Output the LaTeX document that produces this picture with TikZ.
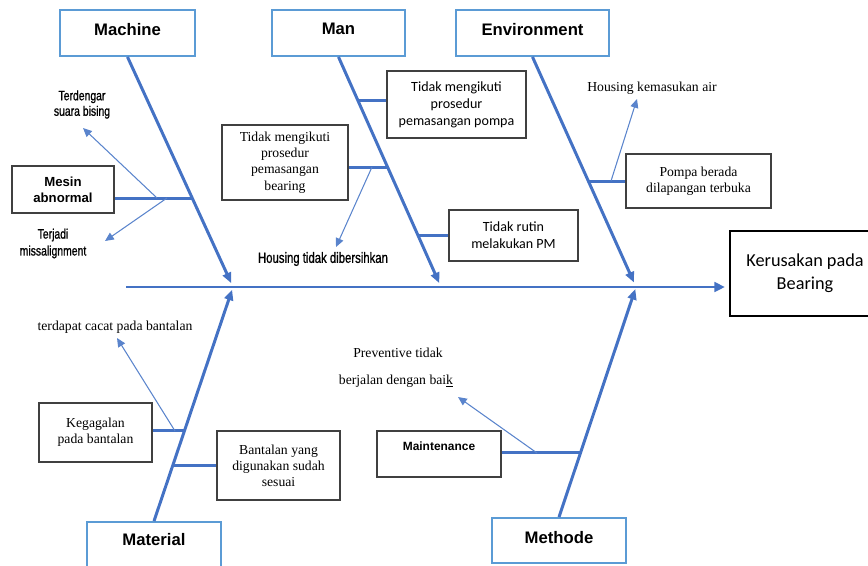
\documentclass[tikz,border=0pt]{standalone}
\usepackage{fontspec}
\setmainfont{Liberation Serif}
\setsansfont{Liberation Sans}
\newfontfamily\calib{Carlito}
\newfontfamily\narrow[FakeStretch=0.76,FakeBold=0.9]{Liberation Sans}
\usetikzlibrary{calc,arrows.meta}
\definecolor{boneblue}{HTML}{4472C4}
\definecolor{catblue}{HTML}{5B9BD5}
\definecolor{twigblue}{HTML}{5A84CC}
\definecolor{boxgray}{HTML}{404040}
\tikzset{
  spine/.style={boneblue,line width=1.4pt,-{Triangle[length=6pt,width=5.5pt]}},
  rib/.style={boneblue,line width=1.7pt,-{Triangle[length=6pt,width=5pt]}},
  branch/.style={boneblue,line width=1.5pt},
  twig/.style={twigblue,line width=0.6pt,-{Triangle[length=5pt,width=4.5pt]}},
  cat/.style={draw=catblue,line width=1.1pt,minimum height=0.92cm,text depth=4.6pt,
              font=\sffamily\bfseries\fontsize{9.5}{11}\selectfont},
  cause/.style={draw=boxgray,line width=0.7pt,align=center},
  bfont/.style={font=\sffamily\bfseries\fontsize{7.5}{9}\selectfont},
  cfont/.style={font=\calib\fontsize{8}{9.6}\selectfont},
  sfont/.style={font=\rmfamily\fontsize{7.8}{9.2}\selectfont},
  nfont/.style={font=\narrow\fontsize{7.8}{8.8}\selectfont,align=center},
}
\begin{document}
\begin{tikzpicture}[x=0.02cm,y=-0.02cm]
  \useasboundingbox (0,0) rectangle (868,565);
  \clip (0,0) rectangle (868,565);
  % category boxes
  \node[cat,minimum width=2.7cm] (mach) at (127.5,33) {Machine};
  \node[cat,minimum width=2.66cm] (man) at (338.5,33) {Man};
  \node[cat,minimum width=3.06cm] (env) at (532.5,33) {Environment};
  \node[cat,minimum width=2.68cm,minimum height=0.96cm,text depth=7pt] (mat) at (154,546) {Material};
  \node[cat,minimum width=2.68cm,minimum height=0.9cm,text depth=4pt] (meth) at (559,540.5) {Methode};
  % effect
  \node[draw,line width=1.2pt,minimum width=3cm,minimum height=1.7cm,align=center,
        font=\calib\fontsize{10.4}{13}\selectfont] (eff) at (805,273.5) {Kerusakan pada\\Bearing};
  % spine and bones
  \coordinate (tail) at (126,287);
  \coordinate (j1) at (233,287);
  \coordinate (j2) at (441,287);
  \coordinate (j3) at (636,287);
  \draw[spine,shorten >=2.3pt] (tail) -- (tail -| eff.west);
  \draw[rib,shorten >=2.4pt] (mach.south) -- (j1);
  \draw[rib,shorten >=2.4pt] (man.south) -- (j2);
  \draw[rib,shorten >=2.8pt] (env.south) -- (j3);
  \draw[rib,shorten >=1.6pt] (mat.north) -- (j1);
  \draw[rib,shorten >=1.2pt] (meth.north) -- (j3);
  % causes
  \node[cause,bfont,minimum width=2.04cm,minimum height=0.94cm] (mesin) at (63,189.5) {Mesin\\abnormal};
  \node[cause,cfont,minimum width=2.78cm,minimum height=1.34cm] (pompa) at (456.5,104.5) {Tidak mengikuti\\prosedur\\pemasangan pompa};
  \node[cause,sfont,minimum width=2.52cm,minimum height=1.5cm] (brg) at (285,162.5) {Tidak mengikuti\\prosedur\\pemasangan\\bearing};
  \node[cause,cfont,minimum width=2.58cm,minimum height=1.02cm] (rutin) at (513.5,235.5) {Tidak rutin\\melakukan PM};
  \node[cause,sfont,minimum width=2.9cm,minimum height=1.08cm] (lapang) at (698.5,181) {Pompa berada\\dilapangan terbuka};
  \node[cause,sfont,minimum width=2.26cm,minimum height=1.18cm] (gagal) at (95.5,432.5) {Kegagalan\\pada bantalan};
  \node[cause,sfont,minimum width=2.46cm,minimum height=1.38cm] (bantal) at (278.5,465.5) {Bantalan yang\\digunakan sudah\\sesuai};
  \node[cause,font=\sffamily\bfseries\fontsize{6.8}{8}\selectfont,minimum width=2.48cm,
        minimum height=0.92cm,text depth=9pt] (maint) at (439,454) {Maintenance};
  % points on the bones
  \coordinate (mA) at ($(mach.south)!0.615!(j1)$);
  \coordinate (nA) at ($(man.south)!0.19!(j2)$);
  \coordinate (nB) at ($(man.south)!0.481!(j2)$);
  \coordinate (nC) at ($(man.south)!0.775!(j2)$);
  \coordinate (eA) at ($(env.south)!0.541!(j3)$);
  \coordinate (tA) at ($(mat.north)!0.387!(j1)$);
  \coordinate (tB) at ($(mat.north)!0.238!(j1)$);
  \coordinate (hA) at ($(meth.north)!0.281!(j3)$);
  \draw[branch] (mA) -- (mA -| mesin.east);
  \draw[branch] (nA) -- (nA -| pompa.west);
  \draw[branch] (nB) -- (nB -| brg.east);
  \draw[branch] (nC) -- (nC -| rutin.west);
  \draw[branch] (eA) -- (eA -| lapang.west);
  \draw[branch] (tA) -- (tA -| gagal.east);
  \draw[branch] (tB) -- (tB -| bantal.west);
  \draw[branch] (hA) -- (hA -| maint.east);
  % sub causes
  \node[nfont] (bising) at (82,104.5) {Terdengar\\suara bising};
  \node[nfont,font=\narrow\fontsize{7.8}{9.6}\selectfont] (miss) at (53,243.5) {Terjadi\\missalignment};
  \node[nfont,font=\narrow\fontsize{8.5}{10}\selectfont] (bersih) at (323,259) {Housing tidak dibersihkan};
  \node[sfont] (kemas) at (652,88) {Housing kemasukan air};
  \node[sfont] (cacat) at (115,327) {terdapat cacat pada bantalan};
  \node[sfont] (prev1) at (398,353) {Preventive tidak};
  \node[sfont] (prev2) at (396,381) {berjalan dengan bai\underline{k}};
  \coordinate (mS1) at (157,198);
  \coordinate (mT1) at (83,128);
  \coordinate (mS2) at (167,198);
  \coordinate (mT2) at (105,241);
  \coordinate (nS) at (372,167);
  \coordinate (nT) at (336,247);
  \coordinate (eS) at (611,181);
  \coordinate (eT) at (637,99);
  \coordinate (tS) at (175,431);
  \coordinate (tT) at (117,338);
  \coordinate (hS) at (537,453);
  \coordinate (hT) at (458,397);
  \draw[twig] (mS1) -- (mT1);
  \draw[twig] (mS2) -- (mT2);
  \draw[twig] (nS) -- (nT);
  \draw[twig] (eS) -- (eT);
  \draw[twig] (tS) -- (tT);
  \draw[twig] (hS) -- (hT);
\end{tikzpicture}
\end{document}
